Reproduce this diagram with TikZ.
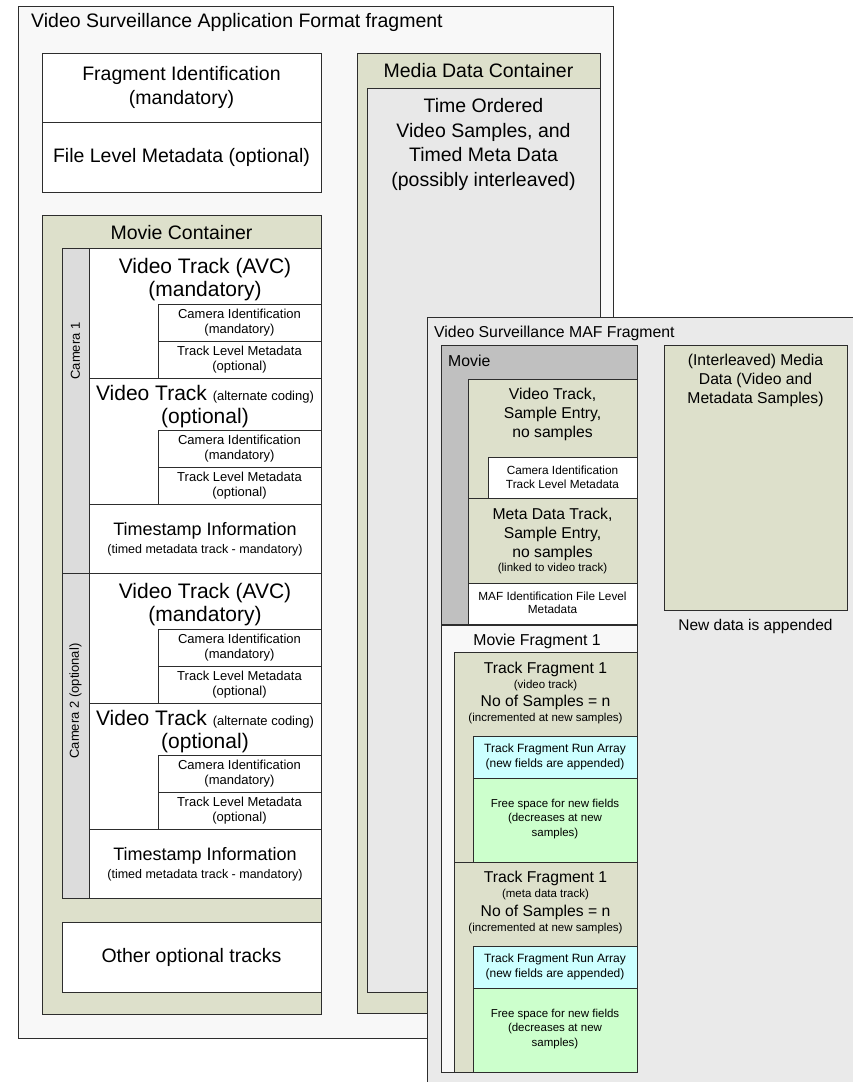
\documentclass[tikz,border=0pt]{standalone}
\usepackage{fontspec}
\setmainfont{Liberation Sans}
\definecolor{oliv}{RGB}{221,224,203}
\definecolor{fillA}{RGB}{248,248,248}
\definecolor{fillB}{RGB}{234,234,234}
\definecolor{grayM}{RGB}{232,232,232}
\definecolor{camg}{RGB}{220,220,220}
\definecolor{movg}{RGB}{192,192,192}
\definecolor{cyanL}{RGB}{204,255,255}
\definecolor{greenL}{RGB}{204,255,204}
\definecolor{linec}{RGB}{45,45,45}
\newcommand\fsz[2]{\fontsize{#1}{#2}\selectfont}
\tikzset{
  bx/.style={draw=linec, line width=0.9pt, anchor=north west, inner sep=0pt, outer sep=0pt},
  txt/.style={align=center, inner sep=0pt, text=black},
  big/.style={txt, font=\fsz{19.5}{24.5}},
  trk/.style={txt, font=\fsz{21}{23}},
  sml/.style={txt, font=\fsz{13}{15}},
  med/.style={txt, font=\fsz{15.7}{19}},
  tiny/.style={txt, font=\fsz{11.5}{14.5}}
}
\newcommand\Bx[6]{\node[bx, fill=#1, minimum width={#4-#2}, minimum height={#5-#3}] (#6) at (#2,#3) {};}
\newcommand\CamBlock[2]{%
\begin{scope}[yshift=-#2pt]
\Bx{camg}{62}{248}{89}{573}{#1strip}
\Bx{white}{89}{248}{321}{378}{#1avc}
\node[trk] (#1avct) at (205,279.5) {Video Track (AVC)\\(mandatory)};
\Bx{white}{158}{304}{321}{341}{#1cida}
\node[sml] (#1cidat) at (#1cida.center) {Camera Identification\\(mandatory)};
\Bx{white}{158}{341}{321}{378}{#1tlma}
\node[sml] (#1tlmat) at (#1tlma.center) {Track Level Metadata\\(optional)};
\Bx{white}{89}{378}{321}{504}{#1alt}
\node[txt, font=\fsz{21}{23}] (#1altt) at (205,406.5) {Video Track {\fsz{13}{15}(alternate coding)}\\(optional)};
\Bx{white}{158}{430}{321}{467}{#1cidb}
\node[sml] (#1cidbt) at (#1cidb.center) {Camera Identification\\(mandatory)};
\Bx{white}{158}{467}{321}{504}{#1tlmb}
\node[sml] (#1tlmbt) at (#1tlmb.center) {Track Level Metadata\\(optional)};
\Bx{white}{89}{504}{321}{573}{#1ts}
\node[txt, font=\fsz{18}{20}] (#1tst) at (205,531) {Timestamp Information};
\node[txt, font=\fsz{12.5}{15}] (#1tss) at (205,550) {(timed metadata track - mandatory)};
\end{scope}}
\begin{document}
\begin{tikzpicture}[x=1pt,y=-1pt]
\useasboundingbox (0,0) rectangle (852,1082);
% ---------------- fragment A
\Bx{fillA}{18}{6}{613}{1038}{fragA}
\node[txt, anchor=west, font=\fsz{19.5}{24}] (titleA) at (31,22) {Video Surveillance Application Format fragment};
\Bx{white}{42}{53}{321}{122}{fragid}
\node[big] (fragidt) at (fragid.center) {Fragment Identification\\(mandatory)};
\Bx{white}{42}{122}{321}{192}{filemeta}
\node[big] (filemetat) at (filemeta.center) {File Level Metadata (optional)};
\Bx{oliv}{357}{53}{600}{1013}{mdc}
\node[big] (mdct) at (478.5,71) {Media Data Container};
\Bx{grayM}{367}{88}{600}{992}{mdi}
\node[big] (mdit) at (483.5,144.5) {Time Ordered\\Video Samples, and\\Timed Meta Data\\(possibly interleaved)};
\Bx{oliv}{42}{215}{321}{1014}{mc}
\node[big] (mct) at (181.5,233) {Movie Container};
\CamBlock{ca}{0}
\CamBlock{cb}{325}
\node[sml, rotate=90] (calab) at (75.5,351) {Camera 1};
\node[sml, rotate=90] (cblab) at (75.5,701) {Camera 2 (optional)};
\Bx{white}{62}{922}{321}{992}{other}
\node[big] (othert) at (other.center) {Other optional tracks};
% ---------------- fragment B
\Bx{fillB}{427}{317}{870}{1100}{fragB}
\node[txt, anchor=west, font=\fsz{15.8}{19}] (titleB) at (434,333) {Video Surveillance MAF Fragment};
\Bx{movg}{441}{345}{637}{624}{movie}
\node[txt, anchor=west, font=\fsz{15.8}{19}] (moviet) at (448,361) {Movie};
\Bx{oliv}{468}{379}{637}{498}{vtr}
\node[med] (vtrt) at (552.5,414) {Video Track,\\Sample Entry,\\no samples};
\Bx{white}{488}{457}{637}{498}{vcid}
\node[txt, font=\fsz{11.8}{14}] (vcidt) at (562.5,477.5) {Camera Identification\\Track Level Metadata};
\Bx{oliv}{468}{498}{637}{583}{mtr}
\node[med] (mtrt) at (552.5,534) {Meta Data Track,\\Sample Entry,\\no samples};
\node[tiny] (mtrs) at (552.5,569) {(linked to video track)};
\Bx{white}{468}{583}{637}{624}{maf}
\node[txt, font=\fsz{11.8}{13.5}] (maft) at (552.5,603) {MAF Identification File Level\\Metadata};
\Bx{oliv}{664}{345}{847}{610}{ilv}
\node[med] (ilvt) at (755.5,380) {(Interleaved) Media\\Data (Video and\\Metadata Samples)};
\node[txt, font=\fsz{15.5}{19}] (newd) at (755.5,626) {New data is appended};
\Bx{fillA}{441}{625}{637}{1072}{mf}
\node[txt, font=\fsz{15.8}{19}] (mft) at (537,641) {Movie Fragment 1};
% track fragment 1 (video)
\Bx{oliv}{454}{652}{637}{862}{tfa}
\node[med] (tfat) at (545.5,669) {Track Fragment 1};
\node[tiny] (tfas) at (545.5,686) {(video track)};
\node[med] (tfan) at (545.5,702) {No of Samples = n};
\node[tiny] (tfai) at (545.5,719) {(incremented at new samples)};
\Bx{cyanL}{473}{736}{637}{778}{tfra}
\node[txt, font=\fsz{12}{14.5}] (tfrat) at (tfra.center) {Track Fragment Run Array\\(new fields are appended)};
\Bx{greenL}{473}{778}{637}{862}{fsa}
\node[tiny] (fsat) at (555,819) {Free space for new fields\\(decreases at new\\samples)};
% track fragment 1 (meta)
\Bx{oliv}{454}{862}{637}{1072}{tfb}
\node[med] (tfbt) at (545.5,878) {Track Fragment 1};
\node[tiny] (tfbs) at (545.5,895) {(meta data track)};
\node[med] (tfbn) at (545.5,912) {No of Samples = n};
\node[tiny] (tfbi) at (545.5,929) {(incremented at new samples)};
\Bx{cyanL}{473}{946}{637}{988}{tfrb}
\node[txt, font=\fsz{12}{14.5}] (tfrbt) at (tfrb.center) {Track Fragment Run Array\\(new fields are appended)};
\Bx{greenL}{473}{988}{637}{1072}{fsb}
\node[tiny] (fsbt) at (555,1029) {Free space for new fields\\(decreases at new\\samples)};
\end{tikzpicture}
\end{document}
